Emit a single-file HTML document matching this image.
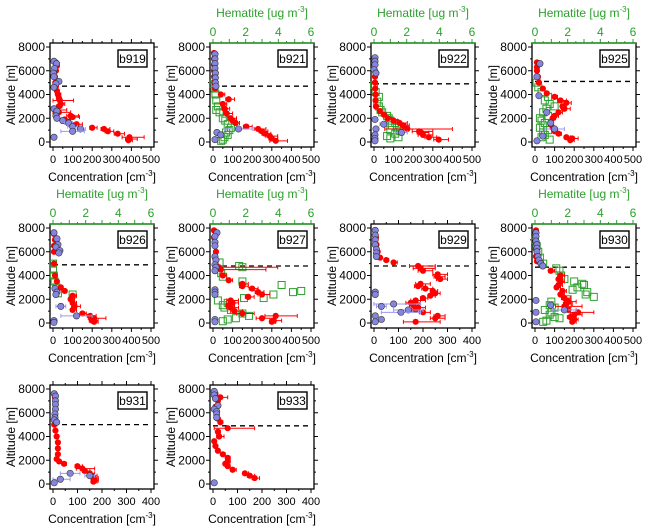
<!DOCTYPE html>
<html><head><meta charset="utf-8"><style>
html,body{margin:0;padding:0;background:#fff}
svg{display:block;font-family:"Liberation Sans",Arial,sans-serif}
</style></head><body>
<svg id="chart" width="650" height="532" viewBox="0 0 650 532"></svg>
<script>
// ---- data: [altitude m, concentration cm-3, x error] ----
const b919Red=[[6700,15,0],[6400,20,0],[6000,15,0],[5500,10,0],[5000,12,0],[4700,15,8],[4300,20,10],[4000,25,15],[3700,30,10],[3500,35,70],[3200,40,20],[3000,30,15],[2700,20,50],[2500,30,60],[2200,90,40],[2100,100,35],[1900,60,30],[1500,120,30],[1200,200,25],[1100,260,30],[900,280,30],[700,330,35],[400,390,75],[250,390,40],[150,385,20]];
const b919Blue=[[6800,5,0],[6600,18,0],[6200,8,0],[5800,2,0],[5500,5,0],[5100,30,0],[4900,15,0],[4600,5,0],[2800,5,0],[2600,20,0],[2200,15,0],[2000,20,0],[1800,50,0],[1600,80,20],[1300,100,25],[1100,140,25],[900,100,60],[400,5,0]];
const b919Green=[];
const b921Red=[[7500,5,0],[7000,5,0],[6500,5,0],[6000,5,0],[5500,5,0],[5000,6,0],[4500,10,0],[4000,40,20],[3600,80,30],[3200,50,20],[2800,60,25],[2400,70,30],[2000,90,30],[1800,100,20],[1600,115,20],[1300,170,30],[1100,230,40],[900,250,30],[700,265,30],[500,290,40],[300,300,30],[100,320,60]];
const b921Blue=[[7400,10,0],[7000,10,0],[6600,10,0],[6200,10,0],[5800,12,0],[5400,12,0],[5000,12,0],[4700,15,0],[1100,130,70],[800,20,0],[600,40,0],[200,10,0]];
const b921Green=[[4900,0,0],[4500,0.1,0],[4000,0.15,0],[3500,0.2,0],[3000,0.3,0],[2700,0.2,0],[2500,0.4,0],[2000,0.6,0],[1800,0.75,0],[1500,0.9,0],[1200,1.1,0],[1000,1.0,0],[800,0.8,0],[600,0.9,0],[400,0.7,0],[200,0.6,0],[100,0.5,0]];
const b922Red=[[6500,5,0],[6000,5,0],[5500,5,0],[5000,5,0],[4500,6,0],[4000,8,0],[3500,8,0],[3000,10,0],[2600,30,10],[2300,50,15],[2000,70,20],[1800,100,20],[1600,130,40],[1400,150,30],[1100,170,230],[900,230,70],[800,240,40],[600,250,50],[400,280,40],[200,330,50]];
const b922Blue=[[7100,5,0],[6800,5,0],[6500,5,0],[6100,0,0],[5800,10,0],[1900,5,0],[1500,50,20],[1100,10,0],[800,140,30],[600,5,0],[300,5,0],[100,5,0]];
const b922Green=[[4800,0,0],[4200,0.1,0],[3800,0.3,0],[3400,0.2,0],[3000,0.3,0],[2700,0.4,0],[2500,0.5,0],[2200,0.8,0],[2000,0.9,0],[1800,1.0,0],[1600,1.3,0],[1400,1.1,0],[1200,1.4,0],[1000,1.0,0],[900,1.6,0],[700,1.3,0],[500,0.8,0],[400,1.5,0],[300,1.0,0]];
const b925Red=[[6700,10,0],[6300,10,0],[6000,10,0],[5500,15,0],[5000,20,0],[4500,40,0],[4100,60,10],[3800,100,15],[3500,130,30],[3300,160,25],[3000,140,20],[2800,150,30],[2500,120,20],[2200,100,20],[2000,90,15],[1500,80,15],[1200,90,15],[900,100,15],[700,120,15],[400,160,20],[300,190,30],[150,180,20]];
const b925Blue=[[6600,25,0],[5500,10,0],[3900,20,0],[2500,60,0],[1600,80,0],[1100,100,50],[500,40,0],[100,10,0]];
const b925Green=[[5000,0.1,0],[4600,0.2,0],[4200,0.4,0],[3800,0.8,0],[3500,0.6,0],[3200,0.9,0],[3000,1.2,0],[2800,0.7,0],[2500,0.5,0],[2200,0.8,0],[2000,0.3,0],[1800,0.4,0],[1600,0.6,0],[1400,0.5,0],[1200,0.3,0],[1000,0.8,0],[800,0.5,0],[600,0.6,0],[400,0.4,0],[200,0.9,0]];
const b926Red=[[7500,5,0],[7000,10,0],[6500,5,0],[6000,5,0],[5000,5,0],[4000,10,0],[3500,20,0],[3000,40,10],[2700,60,10],[2300,100,20],[2000,90,20],[1700,100,20],[1400,110,30],[1100,100,20],[800,150,20],[600,190,30],[400,210,60],[200,200,30],[100,210,20]];
const b926Blue=[[7600,5,0],[7100,20,0],[6600,25,0],[6400,15,0],[6100,35,0],[5900,30,0],[2900,10,0],[2600,20,0],[2400,15,0],[1400,40,25],[600,120,80],[200,5,0],[50,5,0]];
const b926Green=[[5000,0,0],[4500,0,0],[4000,0.05,0],[3500,0.1,0],[3000,0.2,0],[2500,0.3,0],[2400,1.2,0]];
const b927Red=[[7800,5,0],[7200,5,0],[6600,10,0],[6000,15,0],[5500,10,0],[4900,15,0],[4700,30,300],[4500,40,230],[4000,50,20],[3600,80,20],[3300,150,30],[3100,150,30],[2900,200,30],[2600,230,30],[2400,250,40],[2200,180,30],[1900,90,40],[1700,100,30],[1500,80,30],[1300,90,40],[1000,110,40],[800,150,60],[600,320,110],[400,250,60],[200,310,40],[100,300,20]];
const b927Blue=[[7600,20,0],[7300,10,0],[6800,10,0],[6500,10,0],[5600,10,0],[5300,15,0],[4900,10,0],[4700,15,0],[4400,10,0],[2800,10,0],[2600,10,0],[2400,10,0],[300,10,0],[100,10,0]];
const b927Green=[[5100,0.4,0],[4800,1.6,0],[4700,1.8,0],[4200,0.5,0],[3900,0.6,0],[3500,1.8,0],[3200,4.2,0],[2700,5.4,0],[2600,4.9,0],[2400,3.7,0],[2100,3.1,0],[2100,1.9,0],[1900,0.3,0],[1700,0.9,0],[1500,0.6,0],[1300,0.7,0],[1100,1.1,0],[800,1.8,0],[600,2.2,0],[400,1.4,0],[300,0.9,0],[150,0.6,0]];
const b929Red=[[7800,5,0],[7200,8,0],[6600,10,0],[6000,15,0],[5500,25,0],[5300,50,10],[5100,80,15],[4800,180,70],[4600,190,60],[4400,200,40],[4100,260,40],[3900,260,30],[3700,270,30],[3300,190,40],[3100,180,30],[2900,210,30],[2700,240,20],[2500,250,20],[2300,230,20],[2100,200,20],[1900,170,40],[1700,150,40],[1500,160,30],[1300,180,30],[1100,170,30],[900,200,30],[600,260,30],[400,250,40],[100,170,100]];
const b929Blue=[[7800,5,0],[7400,5,0],[7000,5,0],[6600,5,0],[6200,10,0],[5900,10,0],[5600,10,0],[2600,5,0],[2400,5,0],[1600,80,110],[1400,30,20],[1100,140,60],[900,110,80],[600,5,0],[300,30,10],[100,5,0]];
const b929Green=[];
const b930Red=[[7800,5,0],[7300,5,0],[6800,5,0],[6200,5,0],[5600,5,0],[5200,10,0],[4800,40,10],[4400,80,20],[4000,130,20],[3700,120,20],[3500,130,20],[3200,120,20],[3000,110,20],[2700,140,20],[2400,130,20],[2100,150,30],[1800,170,40],[1600,160,30],[1400,150,90],[1100,170,40],[900,220,80],[700,200,40],[500,180,30],[300,200,20],[100,190,20]];
const b930Blue=[[7600,5,0],[7300,5,0],[6900,5,0],[6600,10,0],[6300,10,0],[6000,10,0],[5600,15,0],[5300,20,0],[5000,30,0],[4800,40,0],[1900,5,0],[1500,80,0],[1100,150,60],[900,5,0],[100,5,0]];
const b930Green=[[7000,0,0],[6500,0.1,0],[6000,0.2,0],[5500,0.3,0],[5000,0.5,0],[4600,1.3,0],[4400,1.5,0],[4000,1.6,0],[3700,1.8,0],[3500,2.4,0],[3300,2.9,0],[3200,3.0,0],[3000,2.6,0],[2800,2.3,0],[2600,3.2,0],[2400,3.1,0],[2200,3.6,0],[2000,2.0,0],[1800,1.0,0],[1600,2.0,0],[1500,0.9,0],[1300,1.2,0],[1100,0.6,0],[900,1.0,0],[700,0.9,0],[500,1.2,0],[400,1.5,0],[200,0.7,0],[100,0.5,0]];
const b931Red=[[7300,8,0],[6800,10,0],[6300,10,0],[5800,8,0],[5300,10,0],[5000,5,0],[4500,10,0],[4000,15,5],[3500,20,5],[3000,20,5],[2500,20,5],[2100,15,5],[1900,25,5],[1700,45,10],[1500,100,20],[1300,120,50],[1100,130,20],[900,150,20],[700,160,20],[500,165,20],[300,170,15],[200,165,15]];
const b931Blue=[[7600,5,0],[7400,10,0],[7000,10,0],[6700,10,0],[6300,10,0],[5900,8,0],[5600,8,0],[5400,5,0],[5200,15,0],[900,70,40],[700,150,20],[400,30,40],[100,5,0]];
const b931Green=[];
const b933Red=[[7600,10,0],[7300,30,30],[7000,20,0],[6500,10,0],[6000,15,0],[5500,20,0],[5200,30,10],[4700,60,110],[4400,20,10],[4000,25,20],[3600,5,0],[3200,10,0],[2800,20,5],[2500,40,10],[2200,60,10],[1900,60,10],[1700,50,10],[1500,60,10],[1200,80,15],[900,130,15],[700,150,20],[500,170,20]];
const b933Blue=[[7800,5,0],[7500,5,0],[7200,10,0],[6600,20,0],[6300,5,0],[6100,15,0],[5900,15,0],[5600,15,0],[100,5,0]];
const b933Green=[];
const panelNames=["b919","b921","b922","b925","b926","b927","b929","b930","b931","b933"];
const xMaxes=[500,500,500,500,500,500,400,500,400,400];
const dashAlts=[4700,4700,4900,5100,4900,4800,4800,4700,5000,4900];
const hasHematite=[false,true,true,true,true,true,false,true,false,false];
const reds=[b919Red,b921Red,b922Red,b925Red,b926Red,b927Red,b929Red,b930Red,b931Red,b933Red];
const blues=[b919Blue,b921Blue,b922Blue,b925Blue,b926Blue,b927Blue,b929Blue,b930Blue,b931Blue,b933Blue];
const greens=[b919Green,b921Green,b922Green,b925Green,b926Green,b927Green,b929Green,b930Green,b931Green,b933Green];

const NS="http://www.w3.org/2000/svg";
const svg=document.getElementById("chart");
function el(tag,attrs,parent,text){const e=document.createElementNS(NS,tag);for(const k in attrs)e.setAttribute(k,attrs[k]);if(text!==undefined)e.textContent=text;(parent||svg).appendChild(e);return e;}
const lefts=[50,210,371,532], tops=[43,224,385], W=104, H=104;
const GREEN="#2ca02c", RED="#ff0000", BLUE="#8585e0";
const FS=12;

panelNames.forEach((name,i)=>{
  const L=lefts[i<8?i%4:i-8], T=tops[Math.floor(i/4)<2?Math.floor(i/4):2];
  const xmax=xMaxes[i];
  const x0=L+3, x1=L+W-3;
  const sx=v=>x0+v/xmax*(x1-x0);
  const sh=v=>x0+v/6*(x1-x0);
  const sy=v=>T+4+(8000-v)/8000*(H-9);
  const g=el("g",{});
  
  
  const tk=el("g",{stroke:"#000","stroke-width":1},g);
  
  
  for(let v=0;v<=8000;v+=1000){const y=sy(v),len=v%2000===0?4:2;
    el("line",{x1:L-len,x2:L,y1:y,y2:y},tk);el("line",{x1:L+W,x2:L+W+len,y1:y,y2:y},tk);}
  for(let v=0;v<=xmax;v+=50){const x=sx(v),len=v%100===0?4:2;
    el("line",{x1:x,x2:x,y1:T+H,y2:T+H+len},tk);
    if(!hasHematite[i])el("line",{x1:x,x2:x,y1:T-len,y2:T},tk);}
  if(hasHematite[i]){for(let v=0;v<=6;v+=0.5){const x=sh(v),len=v%1===0?4:2;el("line",{x1:x,x2:x,y1:T-len,y2:T,stroke:GREEN},tk);}}
  const fr=el("rect",{x:L,y:T,width:W,height:H,fill:"none",stroke:"#000","stroke-width":1.3},g);
  
  
  if(hasHematite[i]){const tl=el("line",{x1:L,x2:L+W,y1:T,y2:T,stroke:GREEN,"stroke-width":1.6},g);
    
    }
  for(let v=0;v<=8000;v+=2000){const t=el("text",{x:L-5,y:sy(v)+4,"text-anchor":"end","font-size":FS},g,String(v));
    
    }
  for(let v=0;v<=xmax;v+=100){const t=el("text",{x:sx(v),y:T+H+16,"text-anchor":"middle","font-size":11},g,String(v));
    
    }
  const xt=el("text",{x:L+W/2,y:T+H+34,"text-anchor":"middle","font-size":FS},g);
  
  
  el("tspan",{},xt,"Concentration [cm");el("tspan",{dy:-5,"font-size":8},xt,"-3");el("tspan",{dy:5},xt,"]");
  const yt=el("text",{x:0,y:0,transform:`translate(${L-35},${T+H/2}) rotate(-90)`,"text-anchor":"middle","font-size":FS},g,"Altitude [m]");
  
  
  if(hasHematite[i]){
    for(let v=0;v<=6;v+=2){const t=el("text",{x:sh(v),y:T-7,"text-anchor":"middle","font-size":FS,fill:GREEN},g,String(v));
      
      }
    const ht=el("text",{x:L+W/2,y:T-26,"text-anchor":"middle","font-size":FS,fill:GREEN},g);
    
    
    el("tspan",{},ht,"Hematite [ug m");el("tspan",{dy:-5,"font-size":8},ht,"-3");el("tspan",{dy:5},ht,"]");
  }
  const dl=el("line",{x1:L+3,x2:i===0?sx(400):L+W-2,y1:sy(dashAlts[i]),y2:sy(dashAlts[i]),stroke:"#000","stroke-width":1.3,"stroke-dasharray":"5,4"},g);
  
  
  greens[i].forEach(d=>{const r=el("rect",{x:sh(d[1])-3.5,y:sy(d[0])-3.5,width:7,height:7,fill:"none",stroke:GREEN,"stroke-width":1},g);
    
    });
  reds[i].forEach(d=>{const x=sx(d[1]),y=sy(d[0]);
    if(d[2]>0){const xe=sx(Math.min(d[1]+d[2],xmax)),xs=sx(Math.max(0,d[1]-d[2]*0.5));
      const eb=el("path",{d:`M${xs},${y}H${xe}M${xs},${y-2}V${y+2}M${xe},${y-2}V${y+2}`,stroke:RED,"stroke-width":1,fill:"none"},g);
      
      }
    const c=el("circle",{cx:x,cy:y,r:3.1,fill:RED},g);
    
    });
  blues[i].forEach(d=>{const x=sx(d[1]),y=sy(d[0]);
    if(d[2]>0){const xe=sx(d[1]+d[2]),xs=sx(Math.max(0,d[1]-d[2]));
      const eb=el("path",{d:`M${xs},${y}H${xe}M${xs},${y-2}V${y+2}M${xe},${y-2}V${y+2}`,stroke:"#9a9aee","stroke-width":1,fill:"none"},g);
      
      }
    const c=el("circle",{cx:x,cy:y,r:3.2,fill:BLUE,stroke:"#333","stroke-width":0.6},g);
    
    });
  const lb=el("rect",{x:L+W-36,y:T+7,width:29,height:17,fill:"#fff",stroke:"#000","stroke-width":1.4},g);
  
  
  const lt=el("text",{x:L+W-21.5,y:T+20,"text-anchor":"middle","font-size":FS},g,name);
  
  
});
</script>
</body></html>
